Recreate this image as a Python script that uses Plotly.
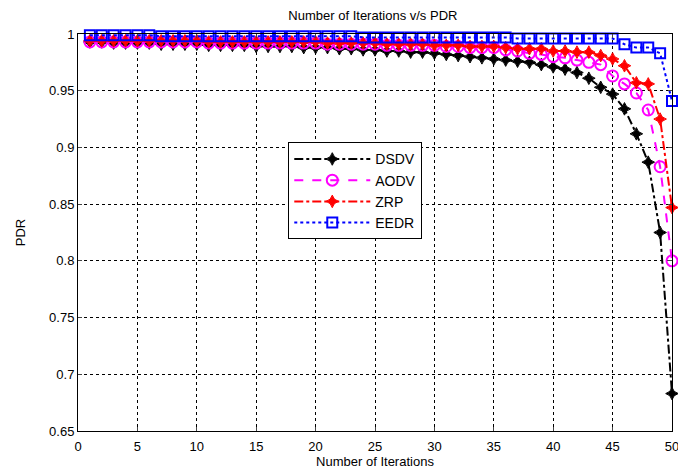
import plotly.graph_objects as go

iterations = list(range(1, 51))

dsdv = [0.993, 0.993, 0.992, 0.992, 0.992, 0.992, 0.991, 0.991, 0.991, 0.991,
        0.990, 0.990, 0.990, 0.990, 0.989, 0.989, 0.989, 0.989, 0.988, 0.988,
        0.988, 0.987, 0.987, 0.986, 0.986, 0.985, 0.985, 0.984, 0.984, 0.983,
        0.982, 0.981, 0.980, 0.979, 0.978, 0.977, 0.976, 0.975, 0.973, 0.971,
        0.969, 0.966, 0.961, 0.953, 0.947, 0.934, 0.912, 0.887, 0.825, 0.683]

aodv = [0.993, 0.993, 0.993, 0.993, 0.993, 0.993, 0.993, 0.993, 0.993, 0.993,
        0.992, 0.992, 0.992, 0.992, 0.992, 0.992, 0.992, 0.992, 0.992, 0.992,
        0.991, 0.991, 0.991, 0.991, 0.991, 0.990, 0.990, 0.990, 0.990, 0.990,
        0.989, 0.989, 0.988, 0.988, 0.988, 0.986, 0.985, 0.983, 0.982, 0.980,
        0.979, 0.977, 0.975, 0.973, 0.963, 0.956, 0.948, 0.933, 0.883, 0.800]

zrp = [0.994, 0.994, 0.994, 0.994, 0.994, 0.994, 0.994, 0.994, 0.994, 0.994,
       0.993, 0.993, 0.993, 0.993, 0.993, 0.993, 0.993, 0.993, 0.993, 0.993,
       0.992, 0.992, 0.992, 0.992, 0.992, 0.991, 0.991, 0.991, 0.991, 0.990,
       0.990, 0.990, 0.989, 0.989, 0.989, 0.988, 0.987, 0.987, 0.987, 0.985,
       0.985, 0.984, 0.984, 0.981, 0.978, 0.972, 0.957, 0.956, 0.925, 0.847]

eedr = [0.999, 0.999, 0.999, 0.999, 0.999, 0.999, 0.998, 0.998, 0.998, 0.998,
        0.998, 0.998, 0.998, 0.998, 0.998, 0.998, 0.998, 0.998, 0.998, 0.998,
        0.998, 0.998, 0.998, 0.997, 0.997, 0.997, 0.997, 0.997, 0.997, 0.997,
        0.997, 0.997, 0.997, 0.997, 0.997, 0.997, 0.996, 0.996, 0.996, 0.996,
        0.996, 0.996, 0.996, 0.996, 0.996, 0.991, 0.988, 0.988, 0.983, 0.941]

x_ticks = [0, 5, 10, 15, 20, 25, 30, 35, 40, 45, 50]
y_ticks = [0.65, 0.7, 0.75, 0.8, 0.85, 0.9, 0.95, 1.0]
y_tick_labels = ["0.65", "0.7", "0.75", "0.8", "0.85", "0.9", "0.95", "1"]

FONT = "Liberation Sans, Arial, sans-serif"

fig = go.Figure()

fig.add_trace(go.Scatter(
    x=iterations, y=dsdv, name="DSDV", mode="lines+markers",
    line=dict(color="black", width=2, dash="dashdot"),
    marker=dict(symbol="star-diamond", size=9, color="black",
                line=dict(color="black", width=1)),
    cliponaxis=False))

fig.add_trace(go.Scatter(
    x=iterations, y=aodv, name="AODV", mode="lines+markers",
    line=dict(color="#ff00ff", width=2, dash="dash"),
    marker=dict(symbol="circle-open", size=11, color="#ff00ff",
                line=dict(color="#ff00ff", width=2)),
    cliponaxis=False))

fig.add_trace(go.Scatter(
    x=iterations, y=zrp, name="ZRP", mode="lines+markers",
    line=dict(color="red", width=2, dash="dashdot"),
    marker=dict(symbol="star-diamond", size=9, color="red",
                line=dict(color="red", width=1)),
    cliponaxis=False))

fig.add_trace(go.Scatter(
    x=iterations, y=eedr, name="EEDR", mode="lines+markers",
    line=dict(color="blue", width=2, dash="dot"),
    marker=dict(symbol="square-open", size=10, color="blue",
                line=dict(color="blue", width=2)),
    cliponaxis=False))

fig.update_layout(
    width=678, height=469,
    margin=dict(l=78, r=6, t=34, b=38),
    paper_bgcolor="white", plot_bgcolor="white",
    font=dict(family=FONT, size=13, color="black"),
    title=dict(text="Number of Iterations v/s PDR", x=0.55, xanchor="center",
               y=0.968, yanchor="middle", font=dict(size=13, family=FONT)),
    showlegend=True,
    legend=dict(x=0.354, y=0.727, xanchor="left", yanchor="top",
                bgcolor="white", bordercolor="black", borderwidth=1,
                font=dict(size=14, family=FONT), itemwidth=76,
                tracegroupgap=0),
)

fig.update_xaxes(
    range=[0, 50], tickvals=x_ticks, ticks="inside", ticklen=4,
    showline=True, linecolor="black", linewidth=1, mirror="ticks",
    showgrid=True, gridcolor="black", gridwidth=1, griddash="dot",
    zeroline=False, tickfont=dict(size=13), ticklabeloverflow="allow",
    ticklabelstandoff=3, automargin=False,
    title=dict(text="Number of Iterations", font=dict(size=13), standoff=3),
)
fig.update_yaxes(
    range=[0.65, 1.0], tickvals=y_ticks, ticktext=y_tick_labels,
    ticks="inside", ticklen=4, automargin=False,
    showline=True, linecolor="black", linewidth=1, mirror="ticks",
    showgrid=True, gridcolor="black", gridwidth=1, griddash="dot",
    zeroline=False, tickfont=dict(size=13),
    title=dict(text="PDR", font=dict(size=13), standoff=20),
)

fig.write_html("out.html")
